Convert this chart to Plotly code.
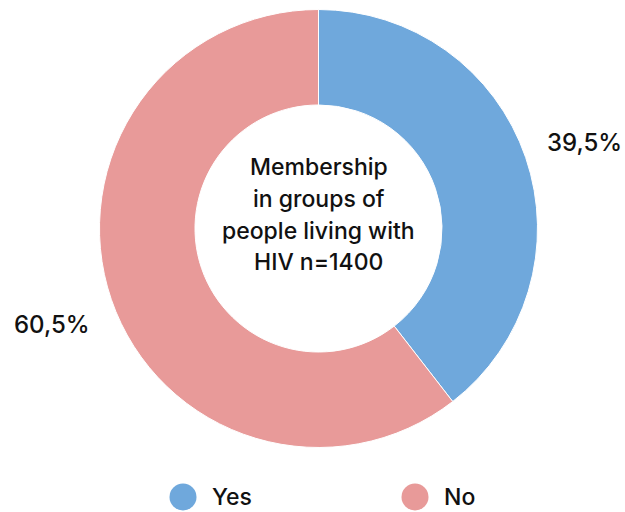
import plotly.graph_objects as go

# Survey answers: membership in groups of people living with HIV
categories = ["Yes", "No"]
shares = [39.5, 60.5]
colors = ["#6fa8dc", "#e89a99"]
center_lines = ["Membership", "in groups of", "people living with", "HIV n=1400"]

W, H = 625, 512
FONT = "Inter, Noto Sans, sans-serif"


def px(x, y):
    """Convert pixel position (from top-left) to paper coordinates."""
    return x / W, 1 - y / H


cx, cy, R = 318.5, 228.5, 219.0
x0, _ = px(cx - R, 0)
x1, _ = px(cx + R, 0)
_, y1 = px(0, cy - R)
_, y0 = px(0, cy + R)

fig = go.Figure()
fig.add_trace(go.Pie(
    labels=categories,
    values=shares,
    hole=0.564,
    sort=False,
    direction="clockwise",
    rotation=0,
    marker=dict(colors=colors, line=dict(color="white", width=1)),
    textinfo="none",
    hoverinfo="label+percent",
    showlegend=False,
    domain=dict(x=[x0, x1], y=[y0, y1]),
))

annotations = []

# percentage labels beside each slice
label_pos = [(584, 142), (52, 324)]
for val, (lx, ly) in zip(shares, label_pos):
    ax, ay = px(lx, ly)
    annotations.append(dict(
        x=ax, y=ay, xref="paper", yref="paper", xanchor="center", yanchor="middle",
        text=f"{val:.1f}%".replace(".", ","), showarrow=False,
        font=dict(family=FONT, size=24, weight=500, color="#111111"),
    ))

# title text inside the hole
line_y = [167, 199, 231, 262]
for txt, ly in zip(center_lines, line_y):
    ax, ay = px(cx, ly)
    annotations.append(dict(
        x=ax, y=ay, xref="paper", yref="paper", xanchor="center", yanchor="middle",
        text=txt, showarrow=False,
        font=dict(family=FONT, size=23, weight=500, color="#111111"),
    ))

# custom legend with round markers
shapes = []
legend_pos = [(183, 497), (415, 497)]
r = 13.5
for cat, col, (lx, ly) in zip(categories, colors, legend_pos):
    a0, b1 = px(lx - r, ly - r)
    a1, b0 = px(lx + r, ly + r)
    shapes.append(dict(type="circle", xref="paper", yref="paper",
                       x0=a0, x1=a1, y0=b0, y1=b1,
                       fillcolor=col, line=dict(width=0)))
    tx, ty = px(lx + 27, ly)
    annotations.append(dict(
        x=tx, y=ty, xref="paper", yref="paper", xanchor="left", yanchor="middle",
        text=cat, showarrow=False,
        font=dict(family=FONT, size=23, weight=500, color="#111111"),
    ))

fig.update_layout(
    width=W, height=H,
    margin=dict(l=0, r=0, t=0, b=0),
    paper_bgcolor="white",
    plot_bgcolor="white",
    annotations=annotations,
    shapes=shapes,
    showlegend=False,
)

fig.write_html("out.html")
